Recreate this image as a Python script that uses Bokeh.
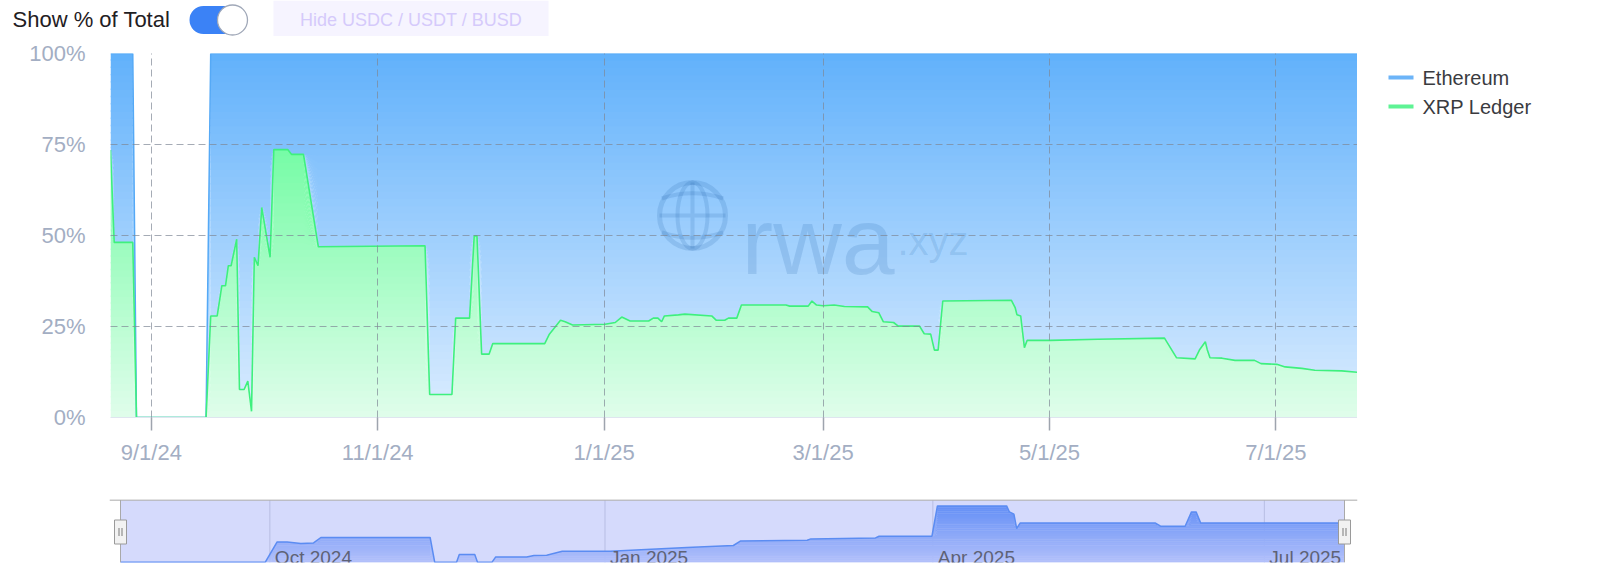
import numpy as np
import pandas as pd
from bokeh.plotting import figure
from bokeh.layouts import column, row
from bokeh.models import Range1d, FixedTicker
from bokeh.core.properties import value
from bokeh.embed import file_html
from bokeh.resources import INLINE

# ---------------- data ----------------
series_names = ["Ethereum", "XRP Ledger"]

share_dates = [
    "2024-08-21 00:00", "2024-08-22 00:00", "2024-08-27 00:00", "2024-08-28 00:00",
    "2024-09-15 18:00", "2024-09-17 00:00", "2024-09-18 18:00", "2024-09-20 00:00",
    "2024-09-21 00:00", "2024-09-21 18:00", "2024-09-22 12:00", "2024-09-24 00:00",
    "2024-09-24 18:00", "2024-09-26 00:00", "2024-09-27 00:00", "2024-09-28 00:00",
    "2024-09-28 18:00", "2024-09-29 18:00", "2024-09-30 18:00", "2024-10-03 00:00",
    "2024-10-04 00:00", "2024-10-07 18:00", "2024-10-08 18:00", "2024-10-12 00:00",
    "2024-10-16 00:00", "2024-11-13 18:00", "2024-11-15 00:00", "2024-11-21 00:00",
    "2024-11-22 00:00", "2024-11-25 18:00", "2024-11-27 00:00", "2024-11-27 18:00",
    "2024-11-29 00:00", "2024-12-01 00:00", "2024-12-02 00:00", "2024-12-16 00:00",
    "2024-12-17 06:00", "2024-12-20 06:00", "2024-12-21 12:00", "2024-12-23 12:00",
    "2025-01-01 06:00", "2025-01-04 00:00", "2025-01-05 18:00", "2025-01-08 00:00",
    "2025-01-13 00:00", "2025-01-14 06:00", "2025-01-15 12:00", "2025-01-16 12:00",
    "2025-01-17 06:00", "2025-01-21 00:00", "2025-01-22 18:00", "2025-01-30 00:00",
    "2025-01-31 06:00", "2025-02-02 12:00", "2025-02-03 12:00", "2025-02-05 18:00",
    "2025-02-07 00:00", "2025-02-19 00:00", "2025-02-20 00:00", "2025-02-25 00:00",
    "2025-02-26 00:00", "2025-02-27 06:00", "2025-03-01 00:00", "2025-03-04 00:00",
    "2025-03-06 18:00", "2025-03-13 00:00", "2025-03-14 06:00", "2025-03-16 00:00",
    "2025-03-17 06:00", "2025-03-20 00:00", "2025-03-21 06:00", "2025-03-27 00:00",
    "2025-03-28 06:00", "2025-03-30 00:00", "2025-03-31 00:00", "2025-04-01 00:00",
    "2025-04-02 06:00", "2025-04-20 18:00", "2025-04-21 18:00", "2025-04-22 06:00",
    "2025-04-23 06:00", "2025-04-24 06:00", "2025-04-25 00:00", "2025-05-01 06:00",
    "2025-05-14 00:00", "2025-06-01 00:00", "2025-06-04 06:00", "2025-06-09 06:00",
    "2025-06-10 12:00", "2025-06-12 00:00", "2025-06-12 12:00", "2025-06-13 06:00",
    "2025-06-16 12:00", "2025-06-20 00:00", "2025-06-25 06:00", "2025-06-27 00:00",
    "2025-07-01 06:00", "2025-07-03 12:00", "2025-07-08 00:00", "2025-07-11 12:00",
    "2025-07-18 18:00", "2025-07-23 00:00",
]

xrp_share = [
    73.5, 48.1, 48.1, 0.0, 0.0, 27.9, 27.9, 36.2,
    36.2, 41.7, 41.7, 49.0, 7.7, 7.7, 10.0, 1.7,
    44.0, 41.7, 57.7, 44.0, 73.6, 73.6, 72.3, 72.3,
    46.9, 47.2, 6.3, 6.3, 27.3, 27.3, 49.9, 49.9,
    17.4, 17.4, 20.3, 20.3, 22.9, 26.7, 26.3, 25.4,
    25.6, 26.1, 27.6, 26.5, 26.5, 27.3, 27.3, 26.3,
    27.9, 28.2, 28.4, 27.9, 26.7, 26.7, 27.3, 27.3,
    30.9, 30.9, 30.6, 30.6, 32.0, 30.9, 30.7, 30.9,
    30.5, 30.4, 29.1, 28.8, 26.3, 26.1, 25.1, 25.1,
    23.0, 22.9, 18.5, 18.5, 32.0, 32.2, 30.2, 28.2,
    27.9, 19.2, 21.2, 21.2, 21.5, 21.8, 16.4, 16.1,
    18.7, 20.8, 18.7, 16.4, 16.3, 15.7, 15.7, 14.8,
    14.6, 13.9, 13.5, 13.0, 12.8, 12.4,
]

eth_share = [
    26.5, 51.9, 51.9, 0.0, 0.0, 72.1, 72.1, 63.8,
    63.8, 58.3, 58.3, 51.0, 92.3, 92.3, 90.0, 98.3,
    56.0, 58.3, 42.3, 56.0, 26.4, 26.4, 27.7, 27.7,
    53.1, 52.8, 93.7, 93.7, 72.7, 72.7, 50.1, 50.1,
    82.6, 82.6, 79.7, 79.7, 77.1, 73.3, 73.7, 74.6,
    74.4, 73.9, 72.4, 73.5, 73.5, 72.7, 72.7, 73.7,
    72.1, 71.8, 71.6, 72.1, 73.3, 73.3, 72.7, 72.7,
    69.1, 69.1, 69.4, 69.4, 68.0, 69.1, 69.3, 69.1,
    69.5, 69.6, 70.9, 71.2, 73.7, 73.9, 74.9, 74.9,
    77.0, 77.1, 81.5, 81.5, 68.0, 67.8, 69.8, 71.8,
    72.1, 80.8, 78.8, 78.8, 78.5, 78.2, 83.6, 83.9,
    81.3, 79.2, 81.3, 83.6, 83.7, 84.3, 84.3, 85.2,
    85.4, 86.1, 86.5, 87.0, 87.2, 87.6,
]

# navigator series (XRP Ledger value, arbitrary $M scale read from pixel heights)
nav_dates = [
    "2024-08-21 00:00", "2024-09-29 18:00", "2024-10-03 00:00", "2024-10-05 18:00",
    "2024-10-09 12:00", "2024-10-13 00:00", "2024-10-15 00:00", "2024-11-14 00:00",
    "2024-11-15 06:00", "2024-11-21 06:00", "2024-11-22 00:00", "2024-11-26 06:00",
    "2024-11-27 00:00", "2024-12-01 00:00", "2024-12-02 00:00", "2024-12-10 12:00",
    "2024-12-12 12:00", "2024-12-16 00:00", "2024-12-20 06:00", "2025-01-02 12:00",
    "2025-01-23 12:00", "2025-02-05 06:00", "2025-02-07 06:00", "2025-02-25 12:00",
    "2025-02-26 12:00", "2025-03-16 06:00", "2025-03-17 06:00", "2025-03-31 18:00",
    "2025-04-02 06:00", "2025-04-21 06:00", "2025-04-22 00:00", "2025-04-23 06:00",
    "2025-04-24 00:00", "2025-04-25 00:00", "2025-06-01 00:00", "2025-06-02 12:00",
    "2025-06-09 06:00", "2025-06-11 00:00", "2025-06-12 06:00", "2025-06-13 12:00",
    "2025-07-23 00:00",
]
nav_value = [
    0.2, 0.3, 20.6, 20.6, 19.0, 19.6, 25.0, 25.0,
    0.3, 0.3, 8.0, 8.0, 0.3, 0.3, 5.6, 5.6,
    7.0, 7.3, 11.3, 11.3, 15.0, 17.0, 21.6, 22.3,
    23.6, 24.6, 26.3, 26.3, 56.6, 56.6, 50.6, 48.3,
    34.0, 39.6, 39.6, 36.3, 36.3, 50.6, 50.6, 39.6,
    39.6,
]

x_tick_dates = ["2024-09-01", "2024-11-01", "2025-01-01", "2025-03-01", "2025-05-01", "2025-07-01"]
x_tick_labels = ["9/1/24", "11/1/24", "1/1/25", "3/1/25", "5/1/25", "7/1/25"]
y_ticks = [0, 25, 50, 75, 100]
y_tick_labels = ["0%", "25%", "50%", "75%", "100%"]
nav_tick_dates = ["2024-10-01", "2025-01-01", "2025-04-01", "2025-07-01"]
nav_tick_labels = ["Oct 2024", "Jan 2025", "Apr 2025", "Jul 2025"]

# ---------------- helpers ----------------
def to_ms(lst):
    return pd.to_datetime(pd.Series(lst)).astype("int64").to_numpy() // 10**6

def lerp(c0, c1, t):
    return "#%02x%02x%02x" % tuple(int(round(a + (b - a) * t)) for a, b in zip(c0, c1))

FONT = "Liberation Sans"
UI_FONT = value(FONT)
AXIS_COLOR = "#a3aec3"

xs = to_ms(share_dates).astype(float)
xrp = np.array(xrp_share, dtype=float)
eth = np.array(eth_share, dtype=float)
top = xrp + eth
X0, X1 = xs[0], xs[-1]

# ---------------- controls row ----------------
A_H = 36
A = figure(width=1600, height=A_H, x_range=Range1d(0, 1600), y_range=Range1d(A_H, 0),
           x_axis_type=None, y_axis_type=None, output_backend="svg", toolbar_location=None,
           min_border=0, min_border_left=0, min_border_right=0, min_border_top=0, min_border_bottom=0)
A.outline_line_color = None
A.text(x=[12], y=[19], text=["Show % of Total"], text_font=UI_FONT, text_font_size="22px",
       text_color="#1f2023", text_baseline="middle", text_align="left")
A.rect(x=[217.5], y=[19.5], width=29, height=28, fill_color="#3b82f6", line_color=None)
A.scatter(x=[203, 232], y=[19.5, 19.5], size=28, marker="circle", fill_color="#3b82f6", line_color=None)
A.scatter(x=[232], y=[19.5], size=30, marker="circle", fill_color="white", line_color="#a0a8b8", line_width=1.3)
A.quad(left=[273], right=[548], top=[0], bottom=[38], fill_color="#f6f4ff", line_color=None)
A.text(x=[410.5], y=[19], text=["Hide USDC / USDT / BUSD"], text_font=UI_FONT, text_font_size="18px",
       text_color="#d5cafb", text_baseline="middle", text_align="center")

# ---------------- main chart ----------------
FRAME_L, FRAME_W, FRAME_T, FRAME_H = 110, 1247, 53, 364
B_TOP = FRAME_T - A_H
B_H = B_TOP + FRAME_H + 71
B = figure(width=1357, height=B_H, x_range=Range1d(X0, X1), y_range=Range1d(0, 100),
           x_axis_type="datetime", output_backend="svg", toolbar_location=None,
           min_border_left=110, min_border_right=0, min_border_top=B_TOP, min_border_bottom=71)
B.outline_line_color = None

ETH_TOP, ETH_BOT = (97, 177, 251), (220, 237, 255)
XRP_TOP, XRP_BOT = (118, 252, 166), (224, 253, 235)

NB = 50
for k in range(NB):
    lo, hi = 100.0 * k / NB, 100.0 * (k + 1) / NB
    y1 = np.minimum(np.maximum(xrp, lo), top)
    y2 = np.minimum(np.maximum(xrp, hi + 0.4), top)
    B.varea(x=xs, y1=y1, y2=y2, fill_color=lerp(ETH_BOT, ETH_TOP, (lo + hi) / 200.0))

xmax = xrp.max()
NG = 40
for k in range(NG):
    lo, hi = xmax * k / NG, xmax * (k + 1) / NG
    y1 = np.minimum(xrp, lo)
    y2 = np.minimum(xrp, hi + 0.4)
    B.varea(x=xs, y1=y1, y2=y2, fill_color=lerp(XRP_BOT, XRP_TOP, (lo + hi) / (2 * xmax)))

B.line(x=xs, y=top, line_color="#55a9f6", line_width=1.5)
B.line(x=xs, y=xrp, line_color="#3ef07e", line_width=1.6)

# watermark (decoration, placed by pixel position inside the frame)
def bx(px):
    return X0 + (px - FRAME_L) / FRAME_W * (X1 - X0)

def by(py):
    return (FRAME_T + FRAME_H - py) / FRAME_H * 100.0

WM, WA = "#145aa0", 0.15
gx, gy = bx(692), by(215)
B.scatter(x=[gx], y=[gy], size=66, marker="circle", fill_alpha=0, line_color=WM, line_alpha=WA, line_width=5)
B.ellipse(x=[gx], y=[gy], width=30, height=66, width_units="screen", height_units="screen",
          fill_alpha=0, line_color=WM, line_alpha=WA, line_width=4)
B.scatter(x=[gx], y=[gy], size=66, marker="cross", line_color=WM, line_alpha=WA, line_width=4)
B.arc(x=[gx], y=[by(215 + 74)], radius=96, radius_units="screen",
      start_angle=np.radians(71.4), end_angle=np.radians(108.6), line_color=WM, line_alpha=WA, line_width=4)
B.arc(x=[gx], y=[by(215 - 74)], radius=96, radius_units="screen",
      start_angle=np.radians(251.4), end_angle=np.radians(288.6), line_color=WM, line_alpha=WA, line_width=4)
B.text(x=[bx(741)], y=[by(240)], text=["rwa"], text_font=UI_FONT, text_font_size="95px",
       text_color=WM, text_alpha=WA, text_baseline="alphabetic", text_align="left")
B.text(x=[bx(897)], y=[by(240)], text=[".xyz"], text_font=UI_FONT, text_font_size="40px",
       text_color=WM, text_alpha=WA, text_baseline="alphabetic", text_align="left")

xt = [int(v) for v in to_ms(x_tick_dates)]
B.xaxis.ticker = FixedTicker(ticks=xt)
B.xaxis.major_label_overrides = {t: lab for t, lab in zip(xt, x_tick_labels)}
B.xaxis.minor_tick_line_color = None
B.xaxis.major_tick_in = 0
B.xaxis.major_tick_out = 13
B.xaxis.major_tick_line_color = "#9ea4ae"
B.xaxis.major_tick_line_width = 1.5
B.xaxis.axis_line_color = "#dfe5ef"
B.xaxis.major_label_standoff = 9
B.xaxis.major_label_text_font = FONT
B.xaxis.major_label_text_font_size = "22px"
B.xaxis.major_label_text_color = AXIS_COLOR

B.yaxis.ticker = FixedTicker(ticks=y_ticks)
B.yaxis.major_label_overrides = {t: lab for t, lab in zip(y_ticks, y_tick_labels)}
B.yaxis.axis_line_color = None
B.yaxis.major_tick_line_color = None
B.yaxis.major_tick_out = 0
B.yaxis.major_tick_in = 0
B.yaxis.minor_tick_line_color = None
B.yaxis.major_label_standoff = 25
B.yaxis.major_label_text_font = FONT
B.yaxis.major_label_text_font_size = "22px"
B.yaxis.major_label_text_color = AXIS_COLOR

B.xgrid.ticker = FixedTicker(ticks=xt)
B.ygrid.ticker = FixedTicker(ticks=[25, 50, 75, 100])
for g in (B.xgrid, B.ygrid):
    g.grid_line_color = "#7f8896"
    g.grid_line_alpha = 0.7
    g.grid_line_dash = "7 4"
    g.grid_line_width = 1
    g.level = "annotation"

# ---------------- legend panel ----------------
L = figure(width=243, height=B_H, x_range=Range1d(1357, 1600), y_range=Range1d(A_H + B_H, A_H),
           x_axis_type=None, y_axis_type=None, output_backend="svg", toolbar_location=None,
           min_border=0, min_border_left=0, min_border_right=0, min_border_top=0, min_border_bottom=0)
L.outline_line_color = None
L.segment(x0=[1388, 1388], x1=[1413, 1413], y0=[77, 106], y1=[77, 106],
          line_color=["#6cb4f8", "#5ef394"], line_width=4)
L.text(x=[1422, 1422], y=[77, 106], text=series_names, text_font=UI_FONT, text_font_size="20px",
       text_color="#3a3b3f", text_baseline="middle", text_align="left")

# ---------------- navigator ----------------
NAV_W = 1224.0
npx = NAV_W / (X1 - X0)  # px per ms
N_TOP = 499 - (A_H + B_H)
N = figure(width=1600, height=N_TOP + 63 + 24,
           x_range=Range1d(X0 - 11 / npx, X1 + 13 / npx), y_range=Range1d(0, 63),
           x_axis_type=None, y_axis_type=None, output_backend="svg", toolbar_location=None,
           min_border_left=109, min_border_right=243, min_border_top=N_TOP, min_border_bottom=24)
N.outline_line_color = None

nx = to_ms(nav_dates).astype(float)
nv = np.array(nav_value, dtype=float)
N.quad(left=[X0], right=[X1], bottom=[0], top=[62.5], fill_color="#d5dafc", line_color=None)

ntk = to_ms(nav_tick_dates).astype(float)
N.segment(x0=ntk, x1=ntk, y0=[0] * len(ntk), y1=[62.5] * len(ntk), line_color="#b7bde3", line_width=1)

NAV_TOP, NAV_BOT = (100, 143, 246), (178, 192, 250)
nmax = nv.max()
NN = 30
for k in range(NN):
    lo, hi = nmax * k / NN, nmax * (k + 1) / NN
    N.varea(x=nx, y1=np.minimum(nv, lo), y2=np.minimum(nv, hi + 0.3),
            fill_color=lerp(NAV_BOT, NAV_TOP, (lo + hi) / (2 * nmax)))
N.line(x=nx, y=nv, line_color="#5b8cf2", line_width=1.5)

N.text(x=ntk, y=[5.3] * len(ntk), text=nav_tick_labels, x_offset=5, text_font=UI_FONT,
       text_font_size="19px", text_color="#5e6276", text_baseline="alphabetic", text_align="left")

N.segment(x0=[X0 - 11 / npx], x1=[X1 + 13 / npx], y0=[62.5], y1=[62.5], line_color="#b3b3b3", line_width=1.5)
N.segment(x0=[X0, X1], x1=[X0, X1], y0=[0, 0], y1=[62.5, 62.5], line_color="#a9a9a9", line_width=1)
N.rect(x=[X0, X1], y=[30.5, 30.5], width=12, height=24, width_units="screen", height_units="screen",
       fill_color="#f2f2f2", line_color="#9a9a9a", line_width=1)
N.segment(x0=[X0 - 1.5 / npx, X0 + 1.5 / npx, X1 - 1.5 / npx, X1 + 1.5 / npx],
          x1=[X0 - 1.5 / npx, X0 + 1.5 / npx, X1 - 1.5 / npx, X1 + 1.5 / npx],
          y0=[26.5] * 4, y1=[34.5] * 4, line_color="#7a7a7a", line_width=1)

# wrap single plots so that the layouts do not align their frames
layout = column(row(A), row(B, column(L, spacing=0), spacing=0), row(N), spacing=0)
open("out.html", "w").write(file_html(layout, INLINE))
